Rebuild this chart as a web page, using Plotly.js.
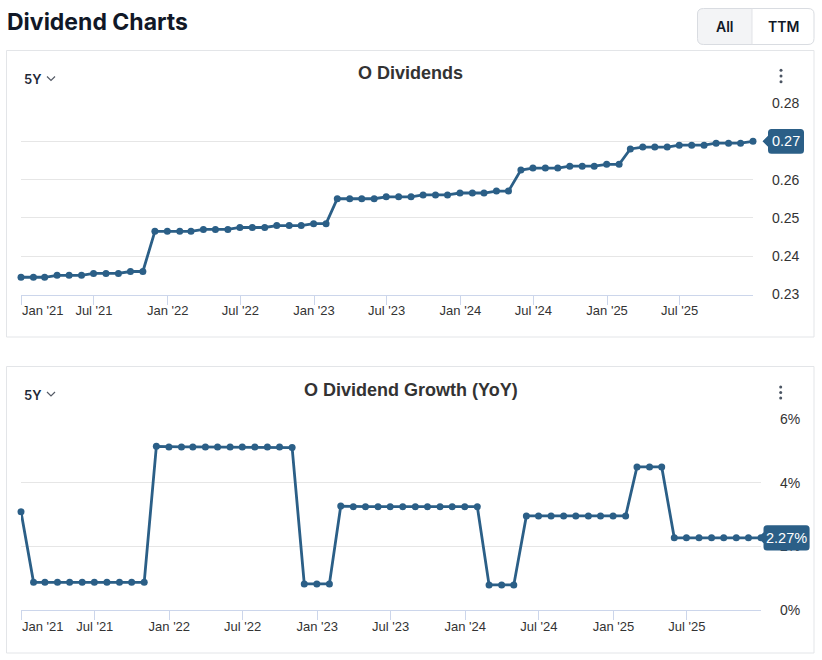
<!DOCTYPE html>
<html>
<head>
<meta charset="utf-8">
<script src="https://cdn.plot.ly/plotly-3.0.1.min.js"></script>
<style>
html,body{margin:0;padding:0;background:#ffffff;}
#chart{width:822px;height:660px;}
</style>
</head>
<body>
<div id="chart"></div>
<script>
// ---------- DATA ----------
const dates = [
  '2020-12-31',
  '2021-01-31','2021-02-28','2021-03-31','2021-04-30','2021-05-31','2021-06-30',
  '2021-07-31','2021-08-31','2021-09-30','2021-10-31','2021-11-30','2021-12-31',
  '2022-01-31','2022-02-28','2022-03-31','2022-04-30','2022-05-31','2022-06-30',
  '2022-07-31','2022-08-31','2022-09-30','2022-10-31','2022-11-30','2022-12-31',
  '2023-01-31','2023-02-28','2023-03-31','2023-04-30','2023-05-31','2023-06-30',
  '2023-07-31','2023-08-31','2023-09-30','2023-10-31','2023-11-30','2023-12-31',
  '2024-01-31','2024-02-29','2024-03-31','2024-04-30','2024-05-31','2024-06-30',
  '2024-07-31','2024-08-31','2024-09-30','2024-10-31','2024-11-30','2024-12-31',
  '2025-01-31','2025-02-28','2025-03-31','2025-04-30','2025-05-31','2025-06-30',
  '2025-07-31','2025-08-31','2025-09-30','2025-10-31','2025-11-30','2025-12-31'
];

const dividends = [
  0.2345,
  0.2345,0.2345,0.235,0.235,0.235,0.2355,
  0.2355,0.2355,0.236,0.236,0.2465,0.2465,
  0.2465,0.2465,0.247,0.247,0.247,0.2475,
  0.2475,0.2475,0.248,0.248,0.248,0.2485,
  0.2485,0.255,0.255,0.255,0.255,0.2555,
  0.2555,0.2555,0.256,0.256,0.256,0.2565,
  0.2565,0.2565,0.257,0.257,0.2625,0.263,
  0.263,0.263,0.2635,0.2635,0.2635,0.264,
  0.264,0.268,0.2685,0.2685,0.2685,0.269,
  0.269,0.269,0.2695,0.2695,0.2695,0.27
];

const growthPct = [
  3.09,
  0.87,0.87,0.87,0.87,0.87,0.87,
  0.87,0.87,0.87,0.87,5.15,5.13,
  5.13,5.13,5.13,5.13,5.13,5.13,
  5.13,5.13,5.13,5.11,0.82,0.82,
  0.82,3.27,3.25,3.25,3.25,3.25,
  3.25,3.25,3.25,3.25,3.25,3.25,
  3.25,0.79,0.79,0.79,2.96,2.96,
  2.96,2.96,2.96,2.96,2.96,2.96,
  2.96,4.50,4.50,4.50,2.27,2.27,
  2.27,2.27,2.27,2.27,2.27,2.27
];

const tickDates = ['2021-01-01','2021-07-01','2022-01-01','2022-07-01','2023-01-01',
                   '2023-07-01','2024-01-01','2024-07-01','2025-01-01','2025-07-01'];
const tickLabels = ["Jan '21","Jul '21","Jan '22","Jul '22","Jan '23",
                    "Jul '23","Jan '24","Jul '24","Jan '25","Jul '25"];

const divTicks = [0.23,0.24,0.25,0.26,0.27,0.28];
const growthTicks = [0,2,4,6];

const pageTitle = 'Dividend Charts';
const chart1Title = 'O Dividends';
const chart2Title = 'O Dividend Growth (YoY)';
const periodLabel = '5Y';
const buttonLabels = ['All','TTM'];

// ---------- STYLE ----------
const W = 822, H = 660;
const fx = x => x / W;
const fy = y => 1 - y / H;
const pp = s => s.replace(/(-?\d+\.?\d*),(-?\d+\.?\d*)/g, (m,a,b) => fx(+a).toFixed(5) + ',' + fy(+b).toFixed(5));

const LINE = '#2b5f87';
const CH = 'Liberation Sans, Arial, Helvetica, sans-serif';
const UI = 'Inter, Liberation Sans, Arial, sans-serif';
const BORDER = '#e3e5e8';

const plot1Right = 753, plot2Right = 761;

const shownTickText = tickLabels.map((t,i) => i === 0 ? '' : t);

function xAxis(domain, anchor) {
  return {
    domain: domain, anchor: anchor, type: 'date',
    range: [dates[0], dates[dates.length-1]],
    tickmode: 'array', tickvals: tickDates, ticktext: shownTickText,
    ticks: 'outside', ticklen: 9, tickwidth: 1, tickcolor: '#ccd6eb',
    ticklabelstandoff: -5,
    showline: true, linecolor: '#ccd6eb', linewidth: 1,
    showgrid: false, zeroline: false,
    tickfont: {family: CH, size: 13, color: '#333333'},
    fixedrange: true
  };
}
function yAxis(domain, anchor, range, ticks, fmt) {
  return {
    domain: domain, anchor: anchor, side: 'right', range: range,
    tickmode: 'array', tickvals: ticks, ticktext: ticks.map(fmt),
    ticks: '', showline: false, zeroline: false,
    showgrid: true, gridcolor: '#e6e6e6', gridwidth: 1,
    tickfont: {family: CH, size: 14, color: '#333333'},
    ticklabelstandoff: 18,
    fixedrange: true
  };
}

const traces = [
  {
    x: dates, y: dividends, xaxis: 'x', yaxis: 'y',
    type: 'scatter', mode: 'lines+markers',
    line: {color: LINE, width: 2.8},
    marker: {color: LINE, size: 7},
    cliponaxis: false, hoverinfo: 'skip', showlegend: false
  },
  {
    x: dates, y: growthPct, xaxis: 'x2', yaxis: 'y2',
    type: 'scatter', mode: 'lines+markers',
    line: {color: LINE, width: 2.8},
    marker: {color: LINE, size: 7},
    cliponaxis: false, hoverinfo: 'skip', showlegend: false
  }
];

const lastDiv = dividends[dividends.length-1];
const lastGrowth = growthPct[growthPct.length-1];

function tagPath(tip, left, right, h, r) {
  return `M${tip},0 L${left},-5.5 L${left},${-(h-r)} Q${left},${-h} ${left+r},${-h} ` +
         `L${right-r},${-h} Q${right},${-h} ${right},${-(h-r)} L${right},${h-r} ` +
         `Q${right},${h} ${right-r},${h} L${left+r},${h} Q${left},${h} ${left},${h-r} L${left},5.5 Z`;
}

const shapes = [
  // panels
  {type:'rect', xref:'paper', yref:'paper', x0:fx(6.5), x1:fx(814), y0:fy(50.5), y1:fy(337),
   line:{color:BORDER, width:1}, fillcolor:'rgba(0,0,0,0)', layer:'below'},
  {type:'rect', xref:'paper', yref:'paper', x0:fx(6.5), x1:fx(814), y0:fy(366.5), y1:fy(653),
   line:{color:BORDER, width:1}, fillcolor:'rgba(0,0,0,0)', layer:'below'},
  // button group
  {type:'path', xref:'paper', yref:'paper', layer:'below',
   path: pp('M697.5,14 Q697.5,8.5 703.5,8.5 L752,8.5 L752,44.5 L703.5,44.5 Q697.5,44.5 697.5,38.5 Z'),
   fillcolor:'#f3f4f6', line:{width:0}},
  {type:'path', xref:'paper', yref:'paper', layer:'below',
   path: pp('M697.5,14 Q697.5,8.5 703.5,8.5 L808,8.5 Q814,8.5 814,14 L814,38.5 Q814,44.5 808,44.5 L703.5,44.5 Q697.5,44.5 697.5,38.5 Z'),
   fillcolor:'rgba(0,0,0,0)', line:{color:'#d9dce1', width:1}},
  {type:'line', xref:'paper', yref:'paper', x0:fx(752), x1:fx(752), y0:fy(8.5), y1:fy(44.5),
   line:{color:'#e1e3e7', width:1}, layer:'below'},
  // chevrons
  {type:'path', xref:'paper', yref:'paper', path: pp('M47,76.5 L51,80.5 L55,76.5'),
   line:{color:'#555b66', width:1.2}},
  {type:'path', xref:'paper', yref:'paper', path: pp('M47,392 L51,396 L55,392'),
   line:{color:'#555b66', width:1.2}},
  // value tags (anchored at the right edge of each plot, at the last value)
  {type:'path', xref:'paper', yref:'y', xsizemode:'pixel', ysizemode:'pixel',
   xanchor:fx(plot1Right), yanchor:lastDiv, path: tagPath(9.5, 15, 51, 12.4, 3.5),
   fillcolor:LINE, line:{width:0}, layer:'above'},
  {type:'path', xref:'paper', yref:'y2', xsizemode:'pixel', ysizemode:'pixel',
   xanchor:fx(plot2Right), yanchor:lastGrowth, path: tagPath(-2.5, 2.5, 48.6, 12.6, 3.5),
   fillcolor:LINE, line:{width:0}, layer:'above'}
];
// menu dots
[[781,70.3],[781,76],[781,81.7],[780.7,387],[780.7,392.5],[780.7,398]].forEach(([cx,cy]) => {
  shapes.push({type:'circle', xref:'paper', yref:'paper',
    x0:fx(cx-1.5), x1:fx(cx+1.5), y0:fy(cy+1.5), y1:fy(cy-1.5),
    fillcolor:'#4b5563', line:{width:0}});
});

const annotations = [
  {text: pageTitle, xref:'paper', yref:'paper', x:fx(5), y:fy(22), xanchor:'left', yanchor:'middle',
   showarrow:false, font:{family:UI, size:23, weight:700, color:'#111827'}},
  {text: buttonLabels[0], xref:'paper', yref:'paper', x:fx(725), y:fy(27), xanchor:'center', yanchor:'middle',
   showarrow:false, font:{family:UI, size:14, weight:600, color:'#111827'}},
  {text: buttonLabels[1], xref:'paper', yref:'paper', x:fx(783), y:fy(27), xanchor:'center', yanchor:'middle',
   showarrow:false, font:{family:UI, size:14, weight:600, color:'#111827'}},
  {text: periodLabel, xref:'paper', yref:'paper', x:fx(21.5), y:fy(79), xanchor:'left', yanchor:'middle',
   showarrow:false, font:{family:UI, size:13, weight:600, color:'#1f2937'}},
  {text: periodLabel, xref:'paper', yref:'paper', x:fx(21.5), y:fy(394.5), xanchor:'left', yanchor:'middle',
   showarrow:false, font:{family:UI, size:13, weight:600, color:'#1f2937'}},
  {text: chart1Title, xref:'paper', yref:'paper', x:fx(410.5), y:fy(73.3), xanchor:'center', yanchor:'middle',
   showarrow:false, font:{family:CH, size:18, weight:700, color:'#333333'}},
  {text: chart2Title, xref:'paper', yref:'paper', x:fx(410.5), y:fy(390), xanchor:'center', yanchor:'middle',
   showarrow:false, font:{family:CH, size:18, weight:700, color:'#333333'}},
  // first x tick labels (left-aligned to the tick)
  {text: tickLabels[0], xref:'x', yref:'paper', x:tickDates[0], y:fy(310.7), xanchor:'left', yanchor:'middle',
   showarrow:false, xshift:-1, font:{family:CH, size:13, color:'#333333'}},
  {text: tickLabels[0], xref:'x2', yref:'paper', x:tickDates[0], y:fy(626.7), xanchor:'left', yanchor:'middle',
   showarrow:false, xshift:-1, font:{family:CH, size:13, color:'#333333'}},
  // value tag texts
  {text: lastDiv.toFixed(2), xref:'paper', yref:'y', x:fx(plot1Right), y:lastDiv, xanchor:'center', yanchor:'middle',
   xshift:33, showarrow:false, font:{family:CH, size:14.5, color:'#ffffff'}},
  {text: lastGrowth.toFixed(2) + '%', xref:'paper', yref:'y2', x:fx(plot2Right), y:lastGrowth, xanchor:'center', yanchor:'middle',
   xshift:25.8, showarrow:false, font:{family:CH, size:14.5, color:'#ffffff'}}
];

const layout = {
  width: W, height: H,
  margin: {l:0, r:0, t:0, b:0, pad:0},
  paper_bgcolor: '#ffffff', plot_bgcolor: '#ffffff',
  showlegend: false,
  xaxis: xAxis([fx(21), fx(plot1Right)], 'y'),
  yaxis: yAxis([fy(294.5), fy(103)], 'x', [0.23, 0.28], divTicks, v => v.toFixed(2)),
  xaxis2: xAxis([fx(21), fx(plot2Right)], 'y2'),
  yaxis2: yAxis([fy(610), fy(419.3)], 'x2', [0, 6], growthTicks, v => v + '%'),
  shapes: shapes,
  annotations: annotations
};

Plotly.newPlot('chart', traces, layout, {displayModeBar:false, staticPlot:true});
</script>
</body>
</html>
